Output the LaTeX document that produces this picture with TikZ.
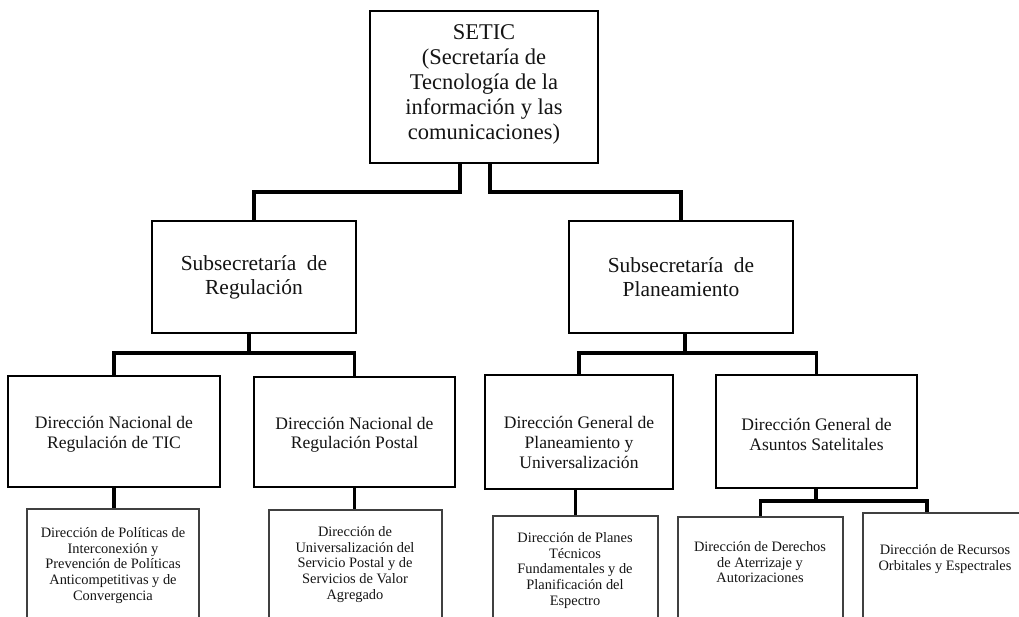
\documentclass[tikz,border=0pt]{standalone}
\usepackage{fontspec}
\setmainfont{Liberation Serif}
\begin{document}
\begin{tikzpicture}[x=0.02cm, y=-0.02cm,
  sz/.style 2 args={minimum width=#1*0.02cm, minimum height=#2*0.02cm},
  topbox/.style={draw=black, line width=1pt, inner sep=0pt, align=center, text=black!92,
    font=\fontsize{12.8}{14.2}\selectfont},
  subbox/.style={draw=black, line width=1pt, inner sep=0pt, align=center, text=black!92,
    font=\fontsize{12.2}{13.8}\selectfont},
  midbox/.style={draw=black, line width=1.3pt, inner sep=0pt, align=center, text=black!92,
    font=\fontsize{10}{11.2}\selectfont},
  lowbox/.style={draw=black!75, line width=0.9pt, inner sep=0pt, anchor=north},
  lowtext/.style={anchor=north, inner sep=0pt, align=center, text=black!92,
    font=\fontsize{8.2}{9}\selectfont},
  conn/.style={draw=black, line width=1.8pt}]
\useasboundingbox (0,0) rectangle (1019,617);
\clip (0,0) rectangle (1019,617);
\fill[white] (0,0) rectangle (1019,617);

% boxes
\node[topbox, sz={228}{152}] (setic) at (484,87)
  {SETIC\\(Secretaría de\\Tecnología de la\\información y las\\comunicaciones)\rule[-5.5pt]{0pt}{5.5pt}};
\node[subbox, sz={204}{112}] (subreg) at (254,277) {Subsecretaría\ \ de\\Regulación};
\node[subbox, sz={224}{112}] (subplan) at (681,277) {Subsecretaría\ \ de\\Planeamiento};

\node[midbox, sz={212}{111}] (tic) at (114,431.5) {\rule{0pt}{10pt}Dirección Nacional de\\Regulación de TIC};
\node[midbox, sz={201}{110}] (postal) at (354.5,432) {\rule{0pt}{10pt}Dirección Nacional de\\Regulación Postal};
\node[midbox, sz={188}{114}] (dgplan) at (579,432)
  {\rule{0pt}{19pt}Dirección General de\\Planeamiento y\\Universalización};
\node[midbox, sz={201}{113}] (dgsat) at (816.5,431.5) {\rule{0pt}{10pt}Dirección General de\\Asuntos Satelitales};

\node[lowbox, sz={172}{220}] (ticsub) at (113,508) {};
\node[lowbox, sz={173}{220}] (postalsub) at (355.5,509) {};
\node[lowbox, sz={165}{220}] (plansub) at (575.5,515) {};
\node[lowbox, sz={165}{220}] (aterr) at (760.5,516) {};
\node[lowbox, sz={177}{220}] (recursos) at (951.5,512) {};

\node[lowtext] (ticsubt) at (113,527) {Dirección de Políticas de\\Interconexión y\\Prevención de Políticas\\Anticompetitivas y de\\Convergencia};
\node[lowtext] (postalsubt) at (355,526) {Dirección de\\Universalización del\\Servicio Postal y de\\Servicios de Valor\\Agregado};
\node[lowtext] (plansubt) at (575,532) {Dirección de Planes\\Técnicos\\Fundamentales y de\\Planificación del\\Espectro};
\node[lowtext] (aterrt) at (760,541) {Dirección de Derechos\\de Aterrizaje y\\Autorizaciones};
\node[lowtext] (recursost) at (945,544) {Dirección de Recursos\\Orbitales y Espectrales};

% connectors
\coordinate (s1) at (460,192);
\coordinate (s2) at (490,192);
\draw[conn] (s1 |- setic.south) -- (s1) -| (subreg.north);
\draw[conn] (s2 |- setic.south) -- (s2) -| (subplan.north);

\coordinate (r1) at (249,353);
\draw[conn] (r1 |- subreg.south) -- (r1);
\draw[conn] (tic.north) -- (tic.north |- r1) -- (postal.north |- r1) -- (postal.north);

\coordinate (p1) at (685,353);
\draw[conn] (p1 |- subplan.south) -- (p1);
\draw[conn] (dgplan.north) -- (dgplan.north |- p1) -- (dgsat.north |- p1) -- (dgsat.north);

\draw[conn] (tic.south) -- (tic.south |- ticsub.north);
\draw[conn] (postal.south) -- (postal.south |- postalsub.north);
\draw[conn] (plansub.north |- dgplan.south) -- (plansub.north);

\coordinate (a1) at (816,501);
\coordinate (a2) at (927,501);
\draw[conn] (a1 |- dgsat.south) -- (a1);
\draw[conn] (aterr.north) -- (aterr.north |- a1) -- (a2) -- (a2 |- recursos.north);
\end{tikzpicture}
\end{document}
